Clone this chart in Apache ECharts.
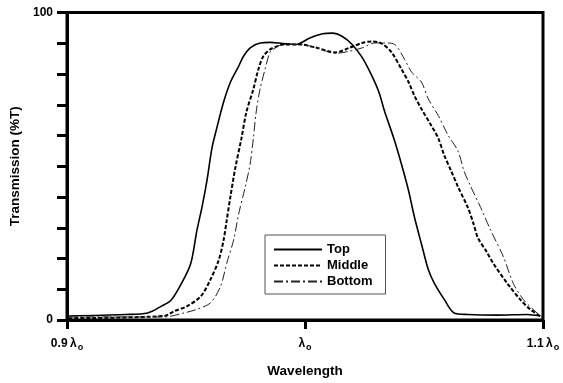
<!DOCTYPE html>
<html>
<head>
<meta charset="utf-8">
<script src="https://cdn.jsdelivr.net/npm/echarts@6/dist/echarts.min.js"></script>
<style>
html,body{margin:0;padding:0;background:#fff;}
#c{width:563px;height:383px;}
</style>
</head>
<body>
<div id="c"></div>
<script>
// Wavelength in units of lambda_o, transmission in %T
var seriesNames = ['Top', 'Middle', 'Bottom'];

var topX = [0.9006, 0.9243, 0.9339, 0.9397, 0.9437, 0.9479, 0.9520, 0.9546, 0.9567, 0.9588, 0.9609, 0.9629, 0.9658, 0.9687, 0.9721, 0.9741, 0.9771, 0.9812, 0.9854, 0.9908, 0.9962, 1.0020, 1.0074, 1.0115, 1.0157, 1.0198, 1.0240, 1.0281, 1.0310, 1.0335, 1.0373, 1.0406, 1.0435, 1.0460, 1.0489, 1.0518, 1.0543, 1.0585, 1.0626, 1.0684, 1.0809, 1.0934, 1.0988];
var topY = [1.3, 1.8, 2.3, 4.5, 6.4, 11.6, 18.4, 29.2, 36.6, 45.3, 55.9, 62.3, 70.9, 77.4, 82.5, 85.7, 88.6, 90.1, 90.3, 89.9, 89.6, 91.7, 93.1, 93.3, 92.2, 89.6, 85.4, 79.4, 74.2, 67.7, 59.1, 50.5, 42.1, 33.4, 24.8, 16.4, 12.0, 6.7, 2.3, 1.8, 1.6, 1.8, 1.3];

var middleX = [0.9006, 0.9409, 0.9451, 0.9505, 0.9562, 0.9603, 0.9638, 0.9658, 0.9671, 0.9686, 0.9707, 0.9733, 0.9754, 0.9783, 0.9804, 0.9825, 0.9854, 0.9879, 0.9908, 0.9978, 1.0045, 1.0128, 1.0186, 1.0240, 1.0281, 1.0323, 1.0364, 1.0406, 1.0435, 1.0460, 1.0489, 1.0531, 1.0560, 1.0585, 1.0614, 1.0643, 1.0684, 1.0709, 1.0726, 1.0763, 1.0792, 1.0850, 1.0904, 1.0946, 1.0988];
var middleY = [0.6, 1.3, 2.9, 4.5, 7.7, 13.2, 19.6, 26.0, 32.4, 39.8, 49.4, 59.1, 67.7, 75.1, 81.5, 85.8, 88.0, 88.9, 89.6, 89.6, 88.6, 87.0, 88.5, 90.1, 90.6, 89.9, 87.0, 81.5, 77.4, 72.9, 68.7, 63.2, 59.1, 53.6, 48.5, 43.3, 36.6, 31.1, 26.8, 22.2, 18.3, 11.9, 6.7, 3.5, 1.3];

var bottomX = [0.9006, 0.9409, 0.9492, 0.9546, 0.9603, 0.9645, 0.9671, 0.9700, 0.9721, 0.9748, 0.9769, 0.9783, 0.9795, 0.9811, 0.9832, 0.9852, 0.9866, 0.9908, 0.9978, 1.0045, 1.0128, 1.0186, 1.0240, 1.0294, 1.0335, 1.0377, 1.0418, 1.0448, 1.0489, 1.0518, 1.0560, 1.0601, 1.0643, 1.0668, 1.0697, 1.0738, 1.0780, 1.0834, 1.0875, 1.0917, 1.0958, 1.1000];
var bottomY = [1.0, 1.0, 2.3, 3.5, 5.6, 10.9, 18.4, 26.0, 34.4, 43.0, 50.5, 59.1, 67.7, 75.1, 81.5, 87.0, 88.0, 89.6, 89.6, 88.6, 86.7, 87.4, 88.5, 90.1, 90.1, 89.6, 84.8, 80.6, 77.4, 71.9, 66.5, 60.1, 54.9, 48.5, 43.3, 36.6, 29.2, 20.5, 11.9, 6.7, 3.5, 0.6];

var xTickValues = [0.9, 1.0, 1.1];
var xTickLabels = ['0.9\u2009λ{s|o}', 'λ{s|o}', '1.1\u2009λ{s|o}'];
var yTickValues = [0, 100];
var yTickLabels = ['0', '100'];
var xAxisTitle = 'Wavelength';
var yAxisTitle = 'Transmission (%T)';

function pairs(xs, ys) {
  var out = [];
  for (var i = 0; i < xs.length; i++) out.push([xs[i], ys[i]]);
  return out;
}

var FONT = 'Liberation Sans, Arial, sans-serif';
var chart = echarts.init(document.getElementById('c'), null, {renderer: 'canvas'});
chart.setOption({
  animation: false,
  backgroundColor: '#fff',
  grid: {left: 61.5, right: 20, top: 12.5, bottom: 59, show: true, borderColor: '#000', borderWidth: 3},
  legend: {
    data: seriesNames,
    orient: 'vertical',
    left: 265, top: 235,
    itemWidth: 48, itemHeight: 14, itemGap: 3,
    padding: [8, 13, 6, 8],
    borderColor: '#555', borderWidth: 1,
    itemStyle: {opacity: 0},
    textStyle: {fontFamily: FONT, fontWeight: 'bold', fontSize: 13, color: '#000'}
  },
  xAxis: {
    type: 'value', min: 0.9, max: 1.1, interval: 0.1,
    name: xAxisTitle, nameLocation: 'middle', nameGap: 44,
    nameTextStyle: {fontFamily: FONT, fontWeight: 'bold', fontSize: 13.5, color: '#000'},
    axisLine: {lineStyle: {color: '#000', width: 3}},
    axisTick: {show: true, inside: false, length: 9, lineStyle: {color: '#000', width: 3}},
    splitLine: {show: false},
    axisLabel: {
      margin: 16, color: '#000', fontFamily: FONT, fontWeight: 'bold', fontSize: 12,
      formatter: function (v) {
        for (var i = 0; i < xTickValues.length; i++) if (Math.abs(v - xTickValues[i]) < 1e-6) return xTickLabels[i];
        return '';
      },
      rich: {s: {fontFamily: FONT, fontWeight: 'bold', fontSize: 9, color: '#000', padding: [7, 0, 0, 1]}}
    }
  },
  yAxis: {
    type: 'value', min: 0, max: 100, interval: 10,
    name: yAxisTitle, nameLocation: 'middle', nameGap: 45,
    nameTextStyle: {fontFamily: FONT, fontWeight: 'bold', fontSize: 13.5, color: '#000'},
    axisLine: {lineStyle: {color: '#000', width: 3}},
    axisTick: {show: true, inside: false, length: 10, lineStyle: {color: '#000', width: 3}},
    splitLine: {show: false},
    axisLabel: {
      margin: 14, color: '#000', fontFamily: FONT, fontWeight: 'bold', fontSize: 12,
      formatter: function (v) {
        var i = yTickValues.indexOf(v);
        return i >= 0 ? yTickLabels[i] : '';
      }
    }
  },
  series: [
    {name: seriesNames[0], type: 'line', data: pairs(topX, topY), symbol: 'none', showSymbol: false, smooth: 0.3,
     lineStyle: {color: '#000', width: 1.6, type: 'solid'}, itemStyle: {color: '#000'}},
    {name: seriesNames[1], type: 'line', data: pairs(middleX, middleY), symbol: 'none', showSymbol: false, smooth: 0.3,
     lineStyle: {color: '#000', width: 2, type: [4, 2]}, itemStyle: {color: '#000'}},
    {name: seriesNames[2], type: 'line', data: pairs(bottomX, bottomY), symbol: 'none', showSymbol: false, smooth: 0.3,
     lineStyle: {color: '#222', width: 1, type: [9, 3, 2, 3]}, itemStyle: {color: '#222'}}
  ]
});
</script>
</body>
</html>
